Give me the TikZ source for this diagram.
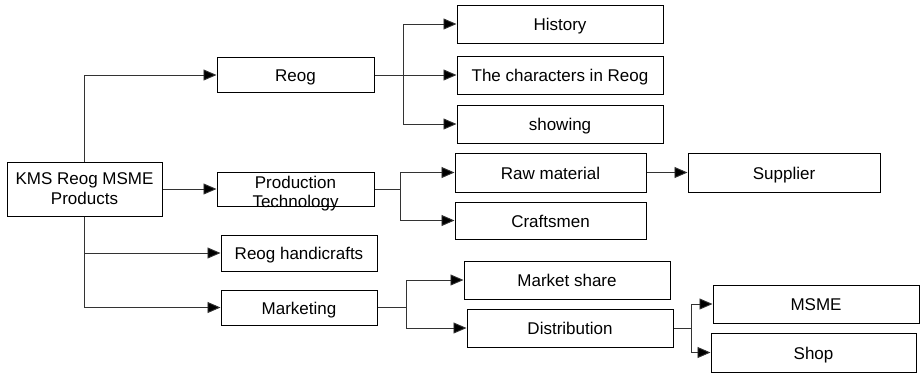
\documentclass[tikz,border=0pt]{standalone}
\usepackage{fontspec}
\setmainfont{Liberation Sans}
\usetikzlibrary{arrows.meta}
\begin{document}
\begin{tikzpicture}[x=1pt,y=-1pt,
  base/.style={draw=black,line width=1pt,inner sep=0pt,font=\fontsize{17}{20}\selectfont,align=center},
  box/.style={base,text height=13.5pt,text depth=0pt},
  conn/.style={draw=black!80,line width=0.9pt},
  arr/.style={conn,-{Triangle[length=13pt,width=11pt,fill=black]}}]
\useasboundingbox (0,0) rectangle (920,373);
\node[base,minimum width=155pt,minimum height=54pt] (root) at (84.5,189) {KMS Reog MSME\\Products};
\node[box,minimum width=157pt,minimum height=35pt] (reog) at (295.5,75) {Reog};
\node[box,minimum width=157pt,minimum height=34pt] (pt) at (295.5,189) {};
\node[font=\fontsize{17}{19.5}\selectfont,align=center,inner sep=0pt] (ptlabel) at (295.5,193.5) {Production\\Technology};
\node[box,minimum width=156pt,minimum height=36pt] (hand) at (299,253) {Reog handicrafts};
\node[box,minimum width=156pt,minimum height=35pt] (mark) at (299,307.5) {Marketing};
\node[box,minimum width=206pt,minimum height=38pt] (hist) at (560,24) {History};
\node[box,minimum width=206pt,minimum height=38pt] (char) at (560,75) {The characters in Reog};
\node[box,minimum width=206pt,minimum height=38pt] (show) at (560,124) {showing};
\node[box,minimum width=191pt,minimum height=39pt] (raw) at (550.5,172.5) {Raw material};
\node[box,minimum width=191pt,minimum height=37pt] (craft) at (550.5,220.5) {Craftsmen};
\node[box,minimum width=192pt,minimum height=39pt] (supp) at (784,172.5) {Supplier};
\node[box,minimum width=206pt,minimum height=38pt] (share) at (567,280) {Market share};
\node[box,minimum width=206pt,minimum height=38pt] (dist) at (570,328) {Distribution};
\node[box,minimum width=206pt,minimum height=38pt] (msme) at (816,304) {MSME};
\node[box,minimum width=205pt,minimum height=39pt] (shop) at (813.5,352.5) {Shop};
\coordinate (rb) at (403,75);
\coordinate (pb) at (400,189);
\coordinate (mb) at (406,307.5);
\coordinate (db) at (691,328);
\draw[arr] (root.north) |- (reog.west);
\draw[arr] (root.east) -- (pt.west);
\draw[arr] (root.south) |- (hand.west);
\draw[arr] (root.south) |- (mark.west);
\draw[conn] (reog.east) -- (rb);
\draw[arr] (rb) |- (hist.west);
\draw[arr] (rb) -- (char.west);
\draw[arr] (rb) |- (show.west);
\draw[conn] (pt.east) -- (pb);
\draw[arr] (pb) |- (raw.west);
\draw[arr] (pb) |- (craft.west);
\draw[arr] (raw.east) -- (supp.west);
\draw[conn] (mark.east) -- (mb);
\draw[arr] (mb) |- (share.west);
\draw[arr] (mb) |- (dist.west);
\draw[conn] (dist.east) -- (db);
\draw[arr] (db) |- (msme.west);
\draw[arr] (db) |- (shop.west);
\end{tikzpicture}
\end{document}
